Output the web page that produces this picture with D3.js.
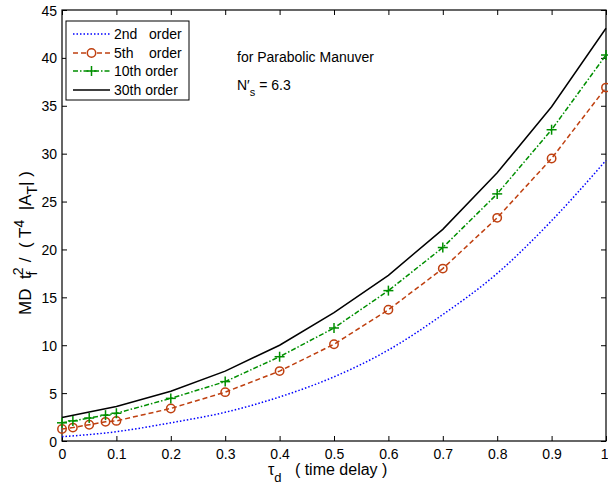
<!DOCTYPE html>
<html>
<head>
<meta charset="utf-8">
<script src="https://cdn.jsdelivr.net/npm/d3@7"></script>
<style>
  html, body { margin: 0; padding: 0; background: #fff; }
  svg { display: block; font-family: "Liberation Sans", Arial, sans-serif; }
</style>
</head>
<body>
<svg id="chart" width="608" height="490"></svg>
<script>
// ---- data ----
const xTicks = [0, 0.1, 0.2, 0.3, 0.4, 0.5, 0.6, 0.7, 0.8, 0.9, 1];
const xTickLabels = ["0", "0.1", "0.2", "0.3", "0.4", "0.5", "0.6", "0.7", "0.8", "0.9", "1"];
const yTicks = [0, 5, 10, 15, 20, 25, 30, 35, 40, 45];

const x2nd = [0, 0.1, 0.2, 0.3, 0.4, 0.5, 0.6, 0.7, 0.8, 0.9, 1.0];
const y2nd = [0.45, 0.97, 1.9, 3.0, 4.6, 6.7, 9.5, 13.2, 17.5, 23.0, 29.3];

const xMark = [0, 0.02, 0.05, 0.08, 0.1, 0.2, 0.3, 0.4, 0.5, 0.6, 0.7, 0.8, 0.9, 1.0];
const y5th  = [1.25, 1.4, 1.7, 2.0, 2.1, 3.4, 5.1, 7.3, 10.1, 13.7, 18.0, 23.3, 29.5, 36.9];
const y10th = [1.9, 2.1, 2.4, 2.7, 2.9, 4.45, 6.2, 8.8, 11.8, 15.7, 20.2, 25.8, 32.5, 40.3];

const x30th = [0, 0.1, 0.2, 0.3, 0.4, 0.5, 0.6, 0.7, 0.8, 0.9, 1.0];
const y30th = [2.45, 3.6, 5.2, 7.3, 10.0, 13.4, 17.3, 22.1, 28.0, 34.9, 43.1];

const legendLabels = ["2nd   order", "5th    order", "10th order", "30th order"];

// ---- layout ----
const svg = d3.select("#chart");
const L = 62, R = 606, T = 10, B = 441;
const x = d3.scaleLinear().domain([0, 1]).range([L, R]);
const y = d3.scaleLinear().domain([0, 45]).range([B, T]);

const cBlue = "#0000ff", cOrange = "#bf4010", cGreen = "#008f00", cBlack = "#000000";

// axes box
svg.append("rect").attr("x", L).attr("y", T).attr("width", R - L).attr("height", B - T)
  .attr("fill", "none").attr("stroke", "#000").attr("stroke-width", 1.2);

// ticks (inward) on all sides
const tl = 5;
const xb = svg.append("g").attr("transform", `translate(0,${B})`)
  .call(d3.axisBottom(x).tickValues(xTicks).tickSizeInner(-tl).tickSizeOuter(0).tickFormat((d, i) => xTickLabels[i]));
const xt = svg.append("g").attr("transform", `translate(0,${T})`)
  .call(d3.axisTop(x).tickValues(xTicks).tickSizeInner(-tl).tickSizeOuter(0).tickFormat(""));
const yl = svg.append("g").attr("transform", `translate(${L},0)`)
  .call(d3.axisLeft(y).tickValues(yTicks).tickSizeInner(-tl).tickSizeOuter(0));
const yr = svg.append("g").attr("transform", `translate(${R},0)`)
  .call(d3.axisRight(y).tickValues(yTicks).tickSizeInner(-tl).tickSizeOuter(0).tickFormat(""));
[xb, xt, yl, yr].forEach(g => {
  g.select(".domain").remove();
  g.selectAll("line").attr("stroke", "#000");
  g.selectAll("text").attr("font-size", 14).attr("fill", "#000")
    .attr("font-family", "Liberation Sans, Arial, sans-serif");
});
xb.selectAll("text").attr("dy", null).attr("y", 18);
// last label sits at the right edge: anchor it to end so it stays inside
xb.selectAll("text").filter((d, i) => i === xTicks.length - 1).attr("text-anchor", "end").attr("x", 2);
yl.selectAll("text").attr("x", -5).attr("dy", "0.36em");

// lines
const line = (xs, ys, curve) => d3.line().x((d, i) => x(xs[i])).y(d => y(d)).curve(curve || d3.curveLinear)(ys);

svg.append("path").attr("d", line(x2nd, y2nd, d3.curveMonotoneX)).attr("fill", "none")
  .attr("stroke", cBlue).attr("stroke-width", 1.5).attr("stroke-dasharray", "1.5,2");
svg.append("path").attr("d", line(xMark, y5th)).attr("fill", "none")
  .attr("stroke", cOrange).attr("stroke-width", 1.5).attr("stroke-dasharray", "5,3");
svg.append("path").attr("d", line(xMark, y10th)).attr("fill", "none")
  .attr("stroke", cGreen).attr("stroke-width", 1.5).attr("stroke-dasharray", "5,2,1.5,2");
svg.append("path").attr("d", line(x30th, y30th)).attr("fill", "none")
  .attr("stroke", cBlack).attr("stroke-width", 1.5);

// markers
svg.append("g").selectAll("circle").data(y5th).join("circle")
  .attr("cx", (d, i) => x(xMark[i])).attr("cy", d => y(d)).attr("r", 4.2)
  .attr("fill", "none").attr("stroke", cOrange).attr("stroke-width", 1.5);
const plus = svg.append("g").selectAll("g").data(y10th).join("g")
  .attr("transform", (d, i) => `translate(${x(xMark[i])},${y(d)})`);
plus.append("line").attr("x1", -5).attr("x2", 5).attr("stroke", cGreen).attr("stroke-width", 1.5);
plus.append("line").attr("y1", -5).attr("y2", 5).attr("stroke", cGreen).attr("stroke-width", 1.5);

// legend
const lg = svg.append("g");
lg.append("rect").attr("x", 66).attr("y", 21).attr("width", 123).attr("height", 79)
  .attr("fill", "#fff").attr("stroke", "#000").attr("stroke-width", 1);
const rowsY = [34, 53, 71, 90];
const lx1 = 73, lx2 = 110;
lg.append("line").attr("x1", lx1).attr("x2", lx2).attr("y1", rowsY[0]).attr("y2", rowsY[0])
  .attr("stroke", cBlue).attr("stroke-width", 1.5).attr("stroke-dasharray", "1.5,2");
lg.append("line").attr("x1", lx1).attr("x2", lx2).attr("y1", rowsY[1]).attr("y2", rowsY[1])
  .attr("stroke", cOrange).attr("stroke-width", 1.5).attr("stroke-dasharray", "5,3");
lg.append("circle").attr("cx", (lx1 + lx2) / 2).attr("cy", rowsY[1]).attr("r", 4.2)
  .attr("fill", "#fff").attr("stroke", cOrange).attr("stroke-width", 1.5);
lg.append("line").attr("x1", lx1).attr("x2", lx2).attr("y1", rowsY[2]).attr("y2", rowsY[2])
  .attr("stroke", cGreen).attr("stroke-width", 1.5).attr("stroke-dasharray", "5,2,1.5,2");
lg.append("line").attr("x1", (lx1 + lx2) / 2 - 5).attr("x2", (lx1 + lx2) / 2 + 5).attr("y1", rowsY[2]).attr("y2", rowsY[2])
  .attr("stroke", cGreen).attr("stroke-width", 1.5);
lg.append("line").attr("x1", (lx1 + lx2) / 2).attr("x2", (lx1 + lx2) / 2).attr("y1", rowsY[2] - 5).attr("y2", rowsY[2] + 5)
  .attr("stroke", cGreen).attr("stroke-width", 1.5);
lg.append("line").attr("x1", lx1).attr("x2", lx2).attr("y1", rowsY[3]).attr("y2", rowsY[3])
  .attr("stroke", cBlack).attr("stroke-width", 1.5);
lg.selectAll("text.lab").data(legendLabels).join("text").attr("class", "lab")
  .attr("x", 114).attr("y", (d, i) => rowsY[i]).attr("dy", "0.36em")
  .attr("font-size", 14).attr("xml:space", "preserve").style("white-space", "pre").text(d => d);

// annotations
svg.append("text").attr("x", 237).attr("y", 62).attr("font-size", 14).text("for Parabolic Manuver");
const nt = svg.append("text").attr("x", 237).attr("y", 90).attr("font-size", 14);
nt.append("tspan").text("N′");
nt.append("tspan").attr("font-size", 11).attr("dy", 6).text("s");
nt.append("tspan").attr("dy", -6).text(" = 6.3");

// x label
const xlab = svg.append("text").attr("x", 268).attr("y", 475).attr("font-size", 16).attr("xml:space", "preserve").style("white-space", "pre");
xlab.append("tspan").text("τ");
xlab.append("tspan").attr("font-size", 13).attr("dy", 7).text("d");
xlab.append("tspan").attr("dy", -7).text("   ( time delay )");

// y label
const ylab = svg.append("text").attr("transform", "translate(31,243) rotate(-90)")
  .attr("text-anchor", "middle").attr("font-size", 17).attr("xml:space", "preserve").style("white-space", "pre");
ylab.append("tspan").text("MD  t");
ylab.append("tspan").attr("font-size", 14).attr("dy", -8).attr("dx", -1).text("2");
ylab.append("tspan").attr("font-size", 14).attr("dy", 14).attr("dx", -8).text("f");
ylab.append("tspan").attr("dy", -6).text("  /  ( T");
ylab.append("tspan").attr("font-size", 14).attr("dy", -7).text("4");
ylab.append("tspan").attr("dy", 7).text("  |A");
ylab.append("tspan").attr("font-size", 14).attr("dy", 6).text("T");
ylab.append("tspan").attr("dy", -6).text("| )");
</script>
</body>
</html>
